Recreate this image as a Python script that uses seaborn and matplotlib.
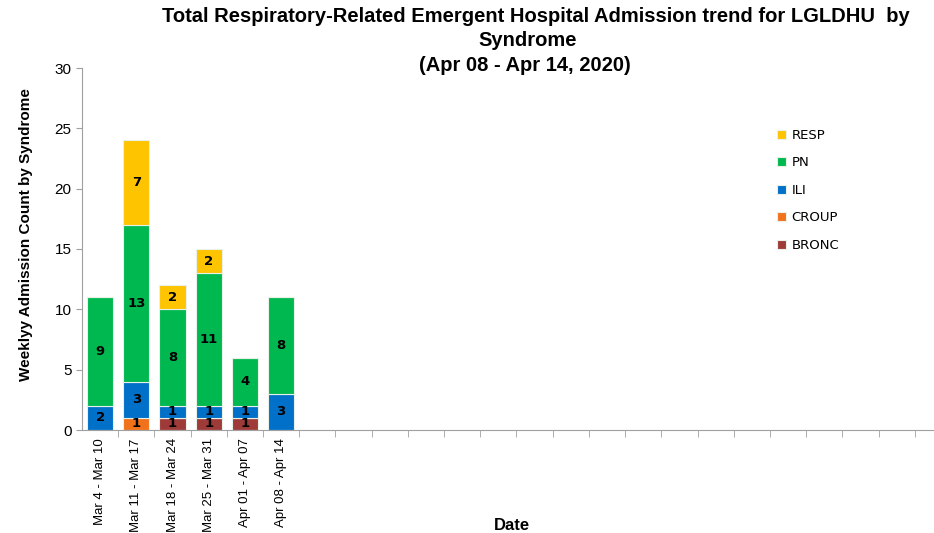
import matplotlib
matplotlib.use('Agg')
import matplotlib.pyplot as plt
import pandas as pd
import seaborn as sns

# weekly admission counts by syndrome
weeks = ['Mar 4 - Mar 10', 'Mar 11 - Mar 17', 'Mar 18 - Mar 24',
         'Mar 25 - Mar 31', 'Apr 01 - Apr 07', 'Apr 08 - Apr 14']
bronc = [0, 0, 1, 1, 1, 0]
croup = [0, 1, 0, 0, 0, 0]
ili = [2, 3, 1, 1, 1, 3]
pn = [9, 13, 8, 11, 4, 8]
resp = [0, 7, 2, 2, 0, 0]
n_slots = 24

syndromes = ['BRONC', 'CROUP', 'ILI', 'PN', 'RESP']
colors = {'BRONC': '#9E3B38', 'CROUP': '#F2721C', 'ILI': '#0070C8',
          'PN': '#00B850', 'RESP': '#FFC400'}

sns.set_style('white')
plt.rcParams['font.family'] = ['Liberation Sans', 'DejaVu Sans']
plt.rcParams['text.color'] = 'black'
plt.rcParams['axes.labelcolor'] = 'black'
plt.rcParams['xtick.labelcolor'] = 'black'
plt.rcParams['ytick.labelcolor'] = 'black'

df = pd.DataFrame({'week': weeks, 'BRONC': bronc, 'CROUP': croup,
                   'ILI': ili, 'PN': pn, 'RESP': resp})
slots = weeks + ['_%d' % i for i in range(n_slots - len(weeks))]

fig = plt.figure(figsize=(9.34, 5.33), dpi=100)
# axes runs past the right edge, like the cropped original
ax = fig.add_axes([82 / 934, 103 / 533, 869 / 934, 362 / 533])

bottom = [0] * len(weeks)
for s in syndromes:
    sns.barplot(data=df, x='week', y=s, order=slots, color=colors[s],
                bottom=bottom, width=0.72, edgecolor='#E8F0E8',
                linewidth=0.8, saturation=1, ax=ax, label=s)
    for i, v in enumerate(df[s]):
        if v > 0:
            ax.text(i, bottom[i] + v / 2, str(v), ha='center', va='center',
                    fontsize=9.5, fontweight='bold', color='black',
                    family='DejaVu Sans')
    bottom = [b + v for b, v in zip(bottom, df[s])]

ax.set_xlim(-0.5, n_slots - 0.5)
ax.set_ylim(0, 30)
ax.set_yticks(range(0, 31, 5))
ax.tick_params(axis='y', labelsize=11, length=4, color='#A0A0A0',
               direction='out', left=True)
ax.set_xticks(range(n_slots))
ax.set_xticklabels(weeks + [''] * (n_slots - len(weeks)), rotation=90,
                   fontsize=9.5)
ax.set_xticks([i + 0.5 for i in range(n_slots)], minor=True)
ax.tick_params(axis='x', which='major', length=0, pad=6)
ax.tick_params(axis='x', which='minor', length=5, color='#A0A0A0',
               direction='out', bottom=True)

for side in ['top', 'right']:
    ax.spines[side].set_visible(False)
for side in ['left', 'bottom']:
    ax.spines[side].set_color('#A0A0A0')

ax.set_xlabel('')
ax.set_ylabel('Weeklyy Admission Count by Syndrome', fontsize=11,
              fontweight='bold')
ax.yaxis.set_label_coords(-0.056, 0.539)

fig.text(512 / 934, 1 - 526 / 533, 'Date', ha='center', va='center',
         fontsize=12, fontweight='bold')
fig.text(536 / 934, 1 - 17 / 533,
         'Total Respiratory-Related Emergent Hospital Admission trend '
         'for LGLDHU  by', ha='center', va='center', fontsize=14.5,
         fontweight='bold')
fig.text(528 / 934, 1 - 41 / 533, 'Syndrome', ha='center', va='center',
         fontsize=14.5, fontweight='bold')
fig.text(525 / 934, 1 - 66 / 533, '(Apr 08 - Apr 14, 2020)', ha='center',
         va='center', fontsize=14.5, fontweight='bold')

handles, labels = ax.get_legend_handles_labels()
ax.legend(handles[::-1], labels[::-1], loc='upper left',
          bbox_to_anchor=(0.786, 0.865), frameon=False,
          handlelength=0.7, handleheight=0.7, labelspacing=1.1,
          handletextpad=0.4, prop={'family': 'DejaVu Sans', 'size': 9.5})

fig.savefig('out.png', dpi=100)
